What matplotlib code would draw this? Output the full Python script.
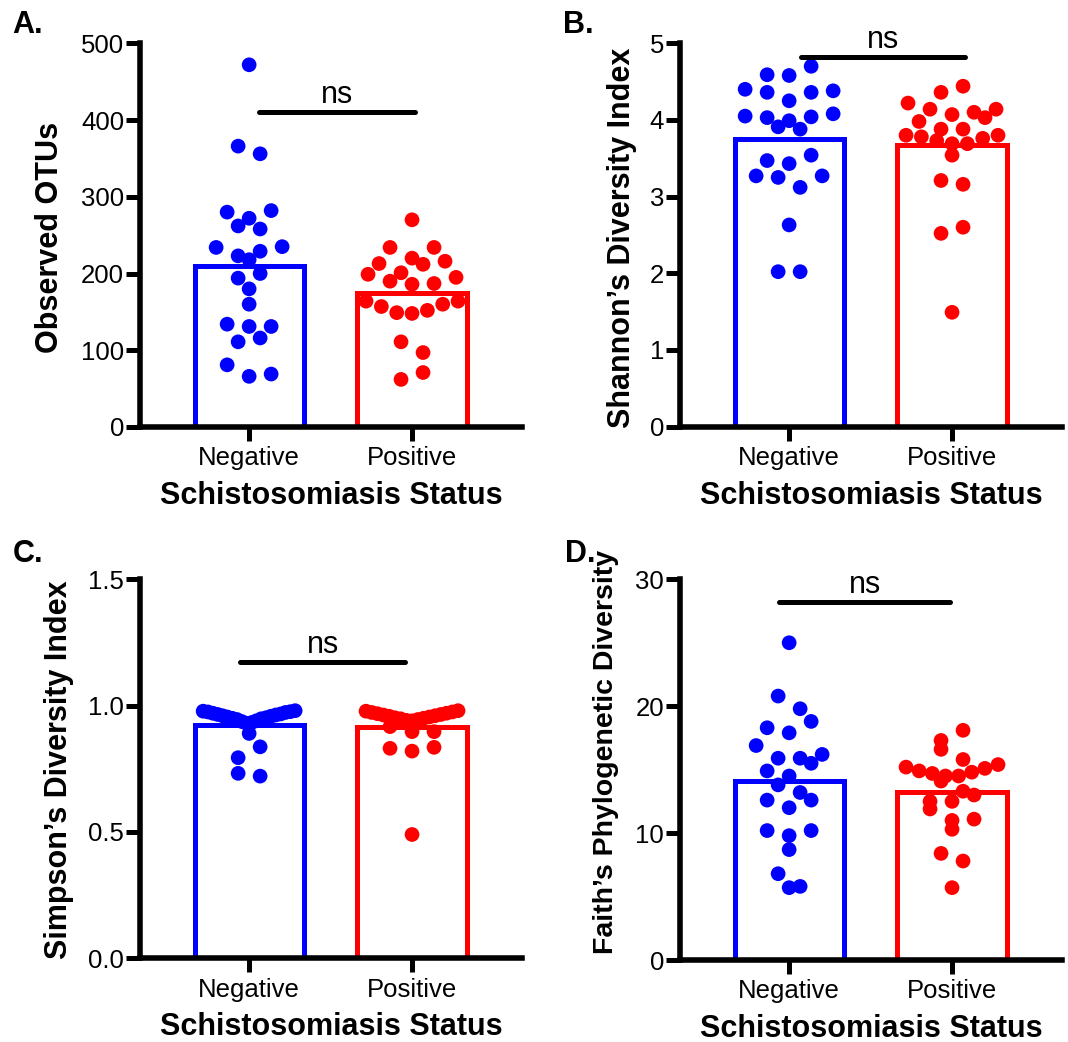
import numpy as np
import matplotlib
matplotlib.use("Agg")
import matplotlib.pyplot as plt

plt.rcParams["font.family"] = ["Liberation Sans", "DejaVu Sans"]

groups = ["Negative", "Positive"]
colors = ["#0000FF", "#FF0000"]

# A. Observed OTUs
otus_neg = [472, 356, 366, 282, 272, 280, 262, 258, 235, 223, 229, 234, 218,
            200, 194, 180, 160, 131, 131, 134, 116, 111, 81, 66, 69]
otus_pos = [270, 234, 234, 213, 216, 220, 212, 201, 195, 187, 186, 190, 199,
            164, 160, 152, 148, 149, 157, 164, 111, 97, 71, 62]

# B. Shannon
shannon_neg = [4.70, 4.58, 4.59, 4.38, 4.36, 4.36, 4.40, 4.25, 4.08, 4.04, 3.99,
               3.88, 3.91, 4.03, 4.05, 3.47, 3.43, 3.54, 3.27, 3.12, 3.25, 3.27,
               2.63, 2.02, 2.02]
shannon_pos = [4.36, 4.44, 4.22, 4.14, 4.07, 3.98, 3.88, 3.88, 4.03, 4.10, 4.14,
               3.80, 3.78, 3.73, 3.69, 3.69, 3.76, 3.80, 3.54, 3.16, 3.21, 2.60,
               2.52, 1.49]

# C. Simpson
simpson_neg = [0.980, 0.978, 0.976, 0.975, 0.973, 0.970, 0.967, 0.965, 0.963,
               0.960, 0.958, 0.955, 0.952, 0.950, 0.948, 0.945, 0.940, 0.937,
               0.933, 0.930, 0.890, 0.837, 0.794, 0.721, 0.732]
simpson_pos = [0.980, 0.978, 0.975, 0.973, 0.970, 0.968, 0.965, 0.963, 0.960,
               0.958, 0.955, 0.952, 0.950, 0.948, 0.945, 0.942, 0.940, 0.917,
               0.897, 0.897, 0.835, 0.831, 0.820, 0.490]

# D. Faith's PD
faith_neg = [25.0, 20.8, 19.8, 18.3, 18.8, 17.9, 16.9, 16.2, 15.5, 15.9, 15.9,
             14.9, 14.5, 13.8, 13.2, 12.6, 12.6, 12.0, 10.2, 9.8, 10.2, 8.7,
             6.8, 5.7, 5.8]
faith_pos = [18.1, 17.3, 16.6, 15.8, 15.2, 14.9, 14.7, 14.5, 14.5, 14.8, 15.1,
             15.4, 14.1, 13.3, 12.5, 12.5, 13.0, 11.9, 11.1, 11.0, 10.3, 8.4,
             7.8, 5.7]


def row_swarm(ax, center, values, row_h=13.0, sp=22.0, limit=46.0):
    # Prism-like scatter: bin points into rows (in pixels), spread each row
    # symmetrically, lowest value in the middle
    vals = np.asarray(values, float)
    pts = ax.transData.transform(np.column_stack([np.full(len(vals), center), vals]))
    xc = pts[0, 0]
    ys = pts[:, 1]
    offs = np.zeros(len(vals))
    order = list(np.argsort(-vals, kind="stable"))
    flip = 1
    while order:
        top = ys[order[0]]
        row = [i for i in order if top - ys[i] <= row_h]
        order = [i for i in order if i not in row]
        n = len(row)
        step = sp if n < 2 or (n - 1) * sp <= 2 * limit else 2 * limit / (n - 1)
        slots = (np.arange(n) - (n - 1) / 2) * step
        slots = sorted(slots, key=lambda s: (round(abs(s), 6), flip * s))
        flip = -flip
        row_sorted = sorted(row, key=lambda i: vals[i])
        for i, s in zip(row_sorted, slots):
            offs[i] = s
    back = ax.transData.inverted().transform(np.column_stack([xc + offs, ys]))
    return back[:, 0]


W, H = 1068, 1042
fig = plt.figure(figsize=(W / 100, H / 100), dpi=100)

panels = [
    dict(letter="A.", letter_px=(12, 33), box=(140, 522, 427, 43.3),
         data=(otus_neg, otus_pos), ylim=(0, 500), ticks=[0, 100, 200, 300, 400, 500],
         labels=["0", "100", "200", "300", "400", "500"], ylabel="Observed OTUs",
         ylab_size=22, ylab_x=50, ylab_y=237, ns_y=411, ns_x=(0.06, 1.02)),
    dict(letter="B.", letter_px=(563, 33), box=(680, 1062, 426.5, 43.3),
         data=(shannon_neg, shannon_pos), ylim=(0, 5), ticks=[0, 1, 2, 3, 4, 5],
         labels=["0", "1", "2", "3", "4", "5"], ylabel="Shannon\u2019s Diversity Index",
         ylab_size=22, ylab_x=622, ylab_y=238, ns_y=4.82, ns_x=(0.07, 1.08)),
    dict(letter="C.", letter_px=(13, 562), box=(140, 522, 958.3, 579.3),
         data=(simpson_neg, simpson_pos), ylim=(0, 1.5), ticks=[0, 0.5, 1.0, 1.5],
         labels=["0.0", "0.5", "1.0", "1.5"], ylabel="Simpson\u2019s Diversity Index",
         ylab_size=22, ylab_x=59, ylab_y=770, ns_y=1.171, ns_x=(-0.055, 0.957)),
    dict(letter="D.", letter_px=(565, 562), box=(680, 1062, 960, 579.3),
         data=(faith_neg, faith_pos), ylim=(0, 30), ticks=[0, 10, 20, 30],
         labels=["0", "10", "20", "30"], ylabel="Faith\u2019s Phylogenetic Diversity",
         ylab_size=20.5, ylab_x=606, ylab_y=752, ns_y=28.19, ns_x=(-0.06, 0.99)),
]

for p in panels:
    x0, x1, yb, yt = p["box"]
    ax = fig.add_axes([x0 / W, 1 - yb / H, (x1 - x0) / W, (yb - yt) / H])
    ax.set_xlim(-0.67, 1.675)
    ax.set_ylim(*p["ylim"])

    for k, (vals, col) in enumerate(zip(p["data"], colors)):
        ax.bar(k, np.mean(vals), width=0.67, facecolor="none", edgecolor=col,
               linewidth=3.6, zorder=2)
        xs = row_swarm(ax, k, vals)
        ax.scatter(xs, vals, s=112, color=col, edgecolors="none", zorder=3, clip_on=False)

    # significance bar
    a, b = p["ns_x"]
    ax.plot([a, b], [p["ns_y"], p["ns_y"]], color="black", lw=3.6,
            solid_capstyle="round", clip_on=False, zorder=4)
    ax.annotate("ns", xy=((a + b) / 2, p["ns_y"]), xytext=(0, 6.5),
                textcoords="offset points", ha="center", va="baseline",
                fontsize=22, annotation_clip=False)

    for s in ["top", "right"]:
        ax.spines[s].set_visible(False)
    for s in ["left", "bottom"]:
        ax.spines[s].set_linewidth(4)
        ax.spines[s].set_capstyle("projecting")
        ax.spines[s].set_zorder(5)
    ax.set_yticks(p["ticks"])
    ax.set_yticklabels(p["labels"])
    ax.set_xticks([0, 1])
    ax.set_xticklabels(groups)
    ax.tick_params(axis="both", length=10, width=3.6, labelsize=18.5, color="black")
    ax.tick_params(axis="y", pad=1.5)
    ax.tick_params(axis="x", pad=4)

    ax.set_ylabel(p["ylabel"], fontsize=p["ylab_size"], fontweight="bold")
    ax.yaxis.set_label_coords((p["ylab_x"] - x0) / (x1 - x0), (yb - p["ylab_y"]) / (yb - yt))
    ax.yaxis.label.set_va("center")
    ax.set_xlabel("Schistosomiasis Status", fontsize=22, fontweight="bold")
    ax.xaxis.set_label_coords(0.5, -69 / (yb - yt))
    ax.xaxis.label.set_va("center")

    lx, ly = p["letter_px"]
    fig.text(lx / W, 1 - ly / H, p["letter"], fontsize=22, fontweight="bold", va="baseline")

fig.savefig("out.png", dpi=100)
